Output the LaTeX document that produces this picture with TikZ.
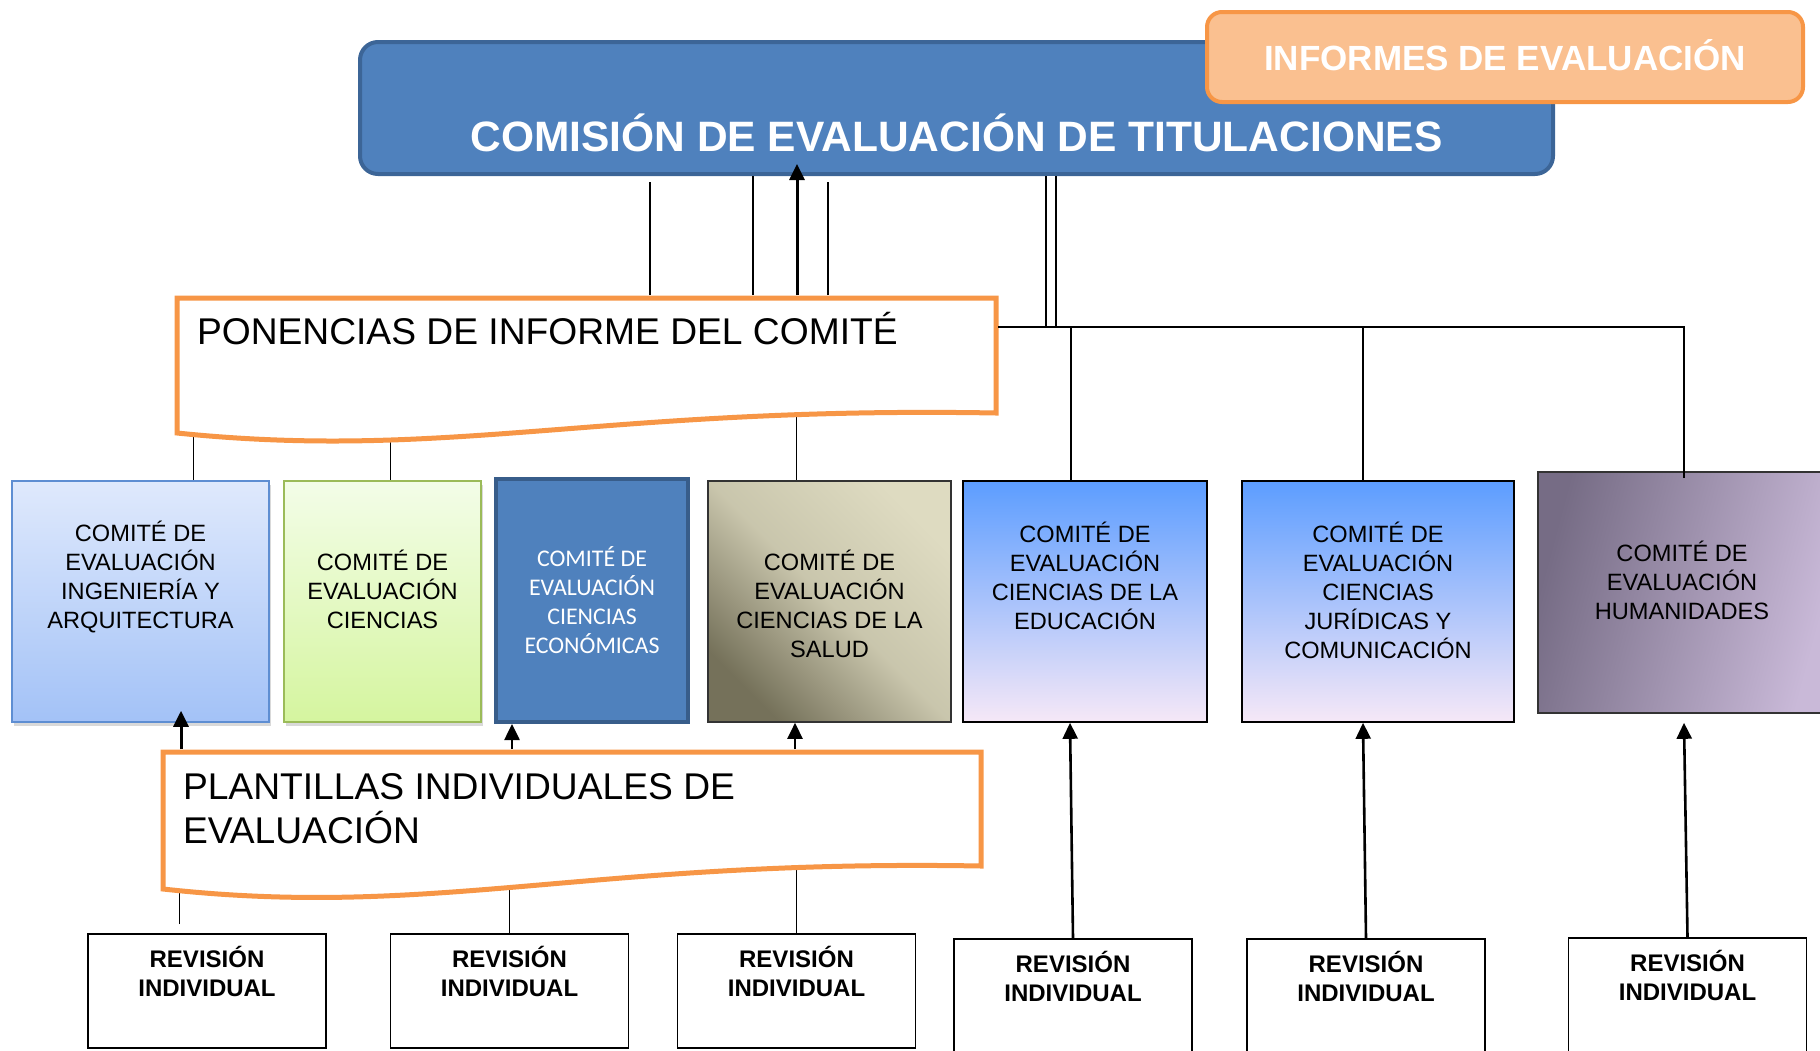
\documentclass[tikz,border=0pt]{standalone}
\usepackage{fontspec}
\setmainfont{Liberation Sans}
\newfontfamily\calibri{Carlito}
\usetikzlibrary{calc,arrows.meta,shadows,backgrounds}
\definecolor{comblue}{HTML}{4F81BD}
\definecolor{comborder}{HTML}{3C6597}
\definecolor{infofill}{HTML}{FAC090}
\definecolor{docorange}{HTML}{F79646}
\definecolor{ingtop}{HTML}{DFE9FC}
\definecolor{ingbot}{HTML}{A3C2F7}
\definecolor{ingborder}{HTML}{5E8ED2}
\definecolor{cietop}{HTML}{F3FDE8}
\definecolor{ciebot}{HTML}{D5F59F}
\definecolor{cieborder}{HTML}{9BBB59}
\definecolor{ecoborder}{HTML}{385D8A}
\definecolor{sallight}{HTML}{DEDBC1}
\definecolor{saldark}{HTML}{75715A}
\definecolor{edutop}{HTML}{5C9DFF}
\definecolor{edubot}{HTML}{F6E8F7}
\definecolor{humdark}{HTML}{766C85}
\definecolor{humlight}{HTML}{C9B9D8}
\begin{document}
\begin{tikzpicture}[x=1pt,y=-1pt,line width=2pt,
        comite/.style={draw=#1,line width=1.6pt,minimum height=241pt,inner sep=0pt},
        cmtxt/.style={align=center,font=\fontsize{23.6}{29}\selectfont},
        revbox/.style={draw,line width=1.6pt,minimum width=238pt,minimum height=114pt},
        revtxt/.style={align=center,font=\bfseries\fontsize{24}{29}\selectfont},
        docbox/.style={minimum width=817pt,minimum height=113pt,inner sep=0pt},
        doctxt/.style={anchor=base west,align=left,inner sep=0pt,font=\fontsize{37.2}{44}\selectfont},
        docline/.style={draw=docorange,fill=white,line width=5pt},
        conarrow/.style={-{Triangle[length=16pt,width=15pt]},line width=2.6pt}]
    \useasboundingbox (0,0) rectangle (1820,1050);

    \node[draw=comborder,fill=comblue,line width=4pt,rounded corners=18pt,minimum width=1193pt,minimum height=132pt,
        label={[text=white,font=\bfseries\fontsize{42.5}{48}\selectfont,yshift=-24.5pt]center:COMISIÓN DE EVALUACIÓN DE TITULACIONES}] (comision) at (956.5,108) {};
    \node[draw=docorange,fill=infofill,line width=4pt,rounded corners=15pt,minimum width=596pt,minimum height=90pt,
        label={[text=white,font=\bfseries\fontsize{35}{40}\selectfont,yshift=2pt]center:INFORMES DE EVALUACIÓN}] (informes) at (1505,57) {};

    \node[docbox,label={[doctxt,xshift=19pt,yshift=-46pt]north west:PONENCIAS DE INFORME DEL COMITÉ}] (ponencias) at (586.5,355.5) {};
    \node[docbox,minimum width=816pt,minimum height=112pt,
        label={[doctxt,xshift=19pt,yshift=-91pt]north west:PLANTILLAS INDIVIDUALES DE\\EVALUACIÓN}] (plantillas) at (572,809) {};

    \node[comite=ingborder,minimum width=257pt,top color=ingtop,bottom color=ingbot,drop shadow={opacity=0.3,shadow xshift=2pt,shadow yshift=-4pt},
        label={[cmtxt,yshift=25pt]center:COMITÉ DE\\EVALUACIÓN\\INGENIERÍA Y\\ARQUITECTURA}] (cIng) at (140.5,601.5) {};
    \node[comite=cieborder,minimum width=197pt,top color=cietop,bottom color=ciebot,drop shadow={opacity=0.3,shadow xshift=2pt,shadow yshift=-4pt},
        label={[cmtxt,yshift=12pt]center:COMITÉ DE\\EVALUACIÓN\\CIENCIAS}] (cCie) at (382.5,601.5) {};
    \node[comite=ecoborder,line width=4pt,minimum width=192pt,minimum height=243pt,fill=comblue,
        label={[align=center,text=white,font=\calibri\fontsize{23.9}{29}\selectfont]center:COMITÉ DE\\EVALUACIÓN\\CIENCIAS\\ECONÓMICAS}] (cEco) at (592,600.5) {};
    \node[comite=black!80,minimum width=243pt,top color=sallight,bottom color=saldark,middle color=sallight!80!saldark,shading angle=-45,
        label={[cmtxt,yshift=-2pt]center:COMITÉ DE\\EVALUACIÓN\\CIENCIAS DE LA\\SALUD}] (cSal) at (829.5,601.5) {};
    \node[comite=black,minimum width=244pt,top color=edutop,bottom color=edubot,
        label={[cmtxt,yshift=26pt]center:COMITÉ DE\\EVALUACIÓN\\CIENCIAS DE LA\\EDUCACIÓN}] (cEdu) at (1085,601.5) {};
    \node[comite=black,minimum width=272pt,top color=edutop,bottom color=edubot,
        label={[cmtxt,yshift=11.5pt]center:COMITÉ DE\\EVALUACIÓN\\CIENCIAS\\JURÍDICAS Y\\COMUNICACIÓN}] (cJur) at (1378,601.5) {};
    \node[comite=black!80,minimum width=290pt,left color=humdark,right color=humlight,shading angle=75,
        label={[cmtxt,xshift=-1pt,yshift=12pt]center:COMITÉ DE\\EVALUACIÓN\\HUMANIDADES}] (cHum) at (1683,592.5) {};

    \node[revbox,label={[revtxt,yshift=19.5pt]center:REVISIÓN\\INDIVIDUAL}] (rev1) at (207,991) {};
    \node[revbox,label={[revtxt,yshift=19.5pt]center:REVISIÓN\\INDIVIDUAL}] (rev2) at (509.5,991) {};
    \node[revbox,label={[revtxt,yshift=19.5pt]center:REVISIÓN\\INDIVIDUAL}] (rev3) at (796.5,991) {};
    \node[revbox,label={[revtxt,yshift=19.5pt]center:REVISIÓN\\INDIVIDUAL}] (rev4) at (1073,996) {};
    \node[revbox,label={[revtxt,yshift=19.5pt]center:REVISIÓN\\INDIVIDUAL}] (rev5) at (1366,996) {};
    \node[revbox,label={[revtxt,yshift=19.5pt]center:REVISIÓN\\INDIVIDUAL}] (rev6) at (1687.5,995) {};

    \begin{scope}[on background layer]
        \draw ($(rev1.north -| 179,0)+(0,-9)$) -- (plantillas.center -| 179,0);
        \draw (rev2.north) -- (plantillas.center -| rev2.north);
        \draw (rev3.north) -- (plantillas.center -| rev3.north);
        \draw (cIng.north -| 193,0) -- (ponencias.center -| 193,0);
        \draw (cCie.north -| 390,0) -- (ponencias.center -| 390,0);
        \draw (cSal.north -| 796,0) -- (ponencias.center -| 796,0);
        \draw[docline] (ponencias.north west) -- (ponencias.north east) -- (ponencias.south east)
            .. controls +(-395,-7) and +(272,28) .. ($(ponencias.south west)+(0,20)$) -- cycle;
        \draw[docline] (plantillas.north west) -- (plantillas.north east) -- (plantillas.south east)
            .. controls +(-395,-7) and +(272,30) .. ($(plantillas.south west)+(0,23)$) -- cycle;
    \end{scope}

    \draw ($(ponencias.north -| 650,0)+(0,-3)$) -- ($(comision.south -| 650,0)+(0,6)$);
    \draw ($(ponencias.north -| 753,0)+(0,-3)$) -- (comision.south -| 753,0);
    \draw ($(ponencias.north -| 828,0)+(0,-3)$) -- ($(comision.south -| 828,0)+(0,6)$);
    \draw[conarrow,line width=3pt] ($(ponencias.north -| 797,0)+(0,-3)$) -- ($(comision.south -| 797,0)+(0,-12)$);

    \coordinate (hub) at (1051,327);
    \draw[double,double distance=8pt,line width=2pt] (comision.south -| hub) -- (hub);
    \draw ($(ponencias.east |- hub)+(2,0)$) -- (1684,327) -- ($(cHum.north -| 1684,0)+(0,7)$);
    \draw (1071,327) -- (cEdu.north -| 1071,0);
    \draw (1363,327) -- (cJur.north -| 1363,0);

    \draw[conarrow,line width=3pt] ($(plantillas.north -| 181,0)+(0,-3)$) -- ($(cIng.south -| 181,0)+(0,-12)$);
    \draw[conarrow] ($(plantillas.north -| 512,0)+(0,-3)$) -- (cEco.south -| 512,0);
    \draw[conarrow] ($(plantillas.north -| 795,0)+(0,-3)$) -- (cSal.south -| 795,0);
    \draw[conarrow] (rev4.north) -- (cEdu.south -| 1070,0);
    \draw[conarrow] (rev5.north) -- (cJur.south -| 1363,0);
    \draw[conarrow] (rev6.north) -- ($(cHum.south -| 1684,0)+(0,9)$);
\end{tikzpicture}
\end{document}
